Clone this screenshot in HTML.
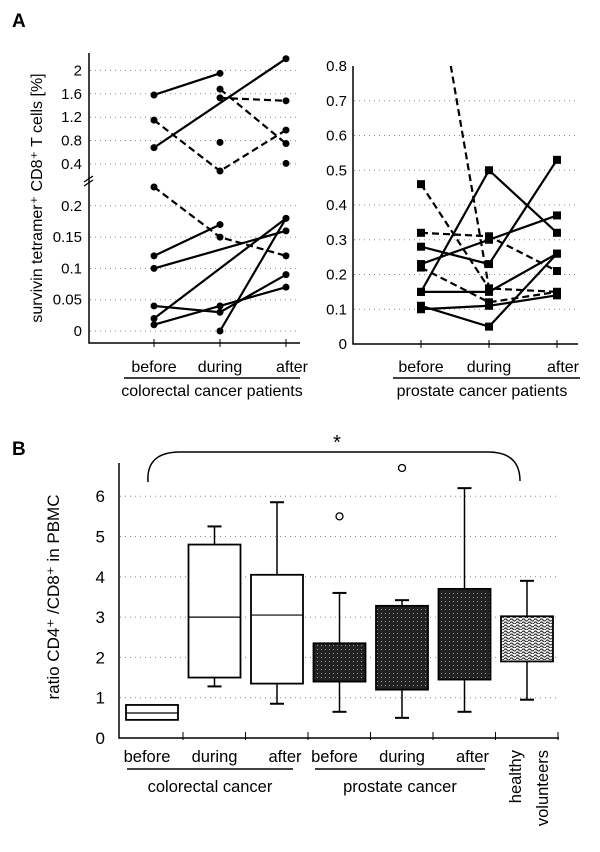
<!DOCTYPE html>
<html><head><meta charset="utf-8">
<style>
html,body{margin:0;padding:0;background:#fff;}
svg{display:block;font-family:"Liberation Sans",Arial,sans-serif;}
</style></head>
<body>
<svg id="fig" width="600" height="852" viewBox="0 0 600 852">
<defs>
<pattern id="stip" width="4" height="4" patternUnits="userSpaceOnUse">
<rect width="4" height="4" fill="#222"/><rect x="1" y="1" width="1" height="1" fill="#999"/></pattern>
<pattern id="wavy" width="6" height="6" patternUnits="userSpaceOnUse">
<rect width="6" height="6" fill="#fff"/><path d="M0 2 Q1.5 0 3 2 T6 2 M0 5 Q1.5 3 3 5 T6 5" stroke="#333" stroke-width="1.2" fill="none"/></pattern>
</defs>
<text x="12" y="27" font-size="19" font-weight="bold">A</text>
<text x="12" y="455" font-size="19" font-weight="bold">B</text>
<g id="gA1"></g>
<g id="gA2"></g>
<g id="gB"></g>
</svg>
<script>
// Panel A left (colorectal)
const catsA = ["before","during","after"];
const crUpper = [
 {v:[1.58,1.95,null],d:false},{v:[0.68,null,2.2],d:false},{v:[1.15,0.28,0.98],d:true},
 {v:[null,1.68,0.75],d:true},{v:[null,1.53,1.48],d:true},{v:[null,0.77,null],d:false},{v:[null,null,0.41],d:false}];
const crLower = [
 {v:[0.23,0.15,0.12],d:true},{v:[0.12,0.17,null],d:false},{v:[0.10,null,0.16],d:false},
 {v:[0.02,null,0.18],d:false},{v:[null,0.00,0.18],d:false},{v:[0.04,0.03,0.09],d:false},{v:[0.01,0.04,0.07],d:false}];
const crLowTicks = [0,0.05,0.1,0.15,0.2];
const crUpTicks = [0.4,0.8,1.2,1.6,2];
// Panel A right (prostate)
const prLines = [
 {v:[0.46,0.16,null],d:true},{v:[1.3,0.16,0.15],d:true},{v:[0.32,0.31,0.21],d:true},{v:[0.22,0.12,0.15],d:true},
 {v:[0.15,0.5,0.32],d:false},{v:[0.28,0.23,0.53],d:false},{v:[0.23,0.30,0.37],d:false},
 {v:[0.15,0.15,0.26],d:false},{v:[0.11,0.05,0.26],d:false},{v:[0.10,0.11,0.14],d:false}];
const prTicks = [0,0.1,0.2,0.3,0.4,0.5,0.6,0.7,0.8];
// Panel B
const bCats = ["cr-before","cr-during","cr-after","pr-before","pr-during","pr-after","healthy"];
const bNames = ["before","during","after","before","during","after",""];
const bLow = [null,1.28,0.85,0.65,0.5,0.65,0.95];
const bQ1 = [0.45,1.5,1.35,1.4,1.2,1.45,1.9];
const bMed = [0.62,3.0,3.05,null,null,null,null];
const bQ3 = [0.82,4.8,4.05,2.35,3.28,3.7,3.02];
const bHigh = [null,5.25,5.85,3.6,3.42,6.2,3.9];
const bOut = [null,null,null,5.5,6.7,null,null];
const bFill = ["#fff","#fff","#fff","url(#stip)","url(#stip)","url(#stip)","url(#wavy)"];
const bTicks = [0,1,2,3,4,5,6];

const NS="http://www.w3.org/2000/svg";
function mk(p,t,a,txt){const e=document.createElementNS(NS,t);for(const k in a)e.setAttribute(k,a[k]);if(txt!=null)e.textContent=txt;p.appendChild(e);return e;}

// ---- A left
const g1=document.getElementById('gA1');
const xA1=i=>154+i*66;
const yLow=v=>331-v/0.05*31.3;
const yUp=v=>164-(v-0.4)/0.4*23.4;
function grid(g,y,x0,x1){mk(g,'line',{x1:x0,x2:x1,y1:y,y2:y,stroke:'#888','stroke-dasharray':'1 4','stroke-width':1});}
crLowTicks.forEach(t=>{grid(g1,yLow(t),90,300);
 const e=mk(g1,'text',{x:82,y:yLow(t)+5,'font-size':15,'text-anchor':'end'},String(t));
 });
crUpTicks.forEach(t=>{grid(g1,yUp(t),90,300);
 const e=mk(g1,'text',{x:82,y:yUp(t)+5,'font-size':15,'text-anchor':'end'},String(t));
 });
mk(g1,'path',{d:'M89 53 V343 H300',stroke:'#000','stroke-width':1.5,fill:'none'});
mk(g1,'path',{d:'M84 182 l9 -6 M84 186 l9 -6',stroke:'#000','stroke-width':1.3});
function drawLines(g,data,xf,yf,marker){
 data.forEach(s=>{
  const pts=[];s.v.forEach((v,i)=>{if(v!=null)pts.push([xf(i),yf(v)]);});
  if(pts.length>1){const l=mk(g,'polyline',{points:pts.map(p=>p.join(',')).join(' '),fill:'none',stroke:'#000','stroke-width':2.2,'stroke-dasharray':s.d?'7 4':'none'});
   }
  pts.forEach(p=>{if(p[1]<40)return;const m=marker==='sq'?mk(g,'rect',{x:p[0]-4,y:p[1]-4,width:8,height:8,fill:'#000'}):mk(g,'circle',{cx:p[0],cy:p[1],r:3.5,fill:'#000'});
   });
 });
}
drawLines(g1,crLower,xA1,yLow,'c');
drawLines(g1,crUpper,xA1,yUp,'c');
catsA.forEach((c,i)=>{mk(g1,'line',{x1:xA1(i),x2:xA1(i),y1:339,y2:347,stroke:'#000'});
 const t=mk(g1,'text',{x:xA1(i)+(i==2?6:0),y:372,'font-size':16,'text-anchor':'middle'},c);
 });
mk(g1,'line',{x1:124,x2:300,y1:378,y2:378,stroke:'#000','stroke-width':1.5});
mk(g1,'text',{x:212,y:396,'font-size':16,'text-anchor':'middle'},'colorectal cancer patients');
mk(g1,'text',{x:0,y:0,'font-size':16,'text-anchor':'middle',transform:'translate(42,198) rotate(-90)'},'survivin tetramer⁺ CD8⁺ T cells [%]');

// ---- A right
const g2=document.getElementById('gA2');
const xA2=i=>421+i*68;
const yPr=v=>344-v/0.1*34.75;
prTicks.forEach(t=>{if(t>0&&t<0.8)grid(g2,yPr(t),354,578);
 const e=mk(g2,'text',{x:347,y:yPr(t)+5,'font-size':15,'text-anchor':'end'},String(t));
 });
const cl=mk(g2,'clipPath',{id:'clipPr'});mk(cl,'rect',{x:340,y:66,width:260,height:290});
const gp=mk(g2,'g',{'clip-path':'url(#clipPr)'});
drawLines(gp,prLines,xA2,yPr,'sq');
mk(g2,'path',{d:'M353 66 V344 H578',stroke:'#000','stroke-width':1.5,fill:'none'});
catsA.forEach((c,i)=>{mk(g2,'line',{x1:xA2(i),x2:xA2(i),y1:340,y2:348,stroke:'#000'});
 const t=mk(g2,'text',{x:xA2(i)+(i==2?6:0),y:372,'font-size':16,'text-anchor':'middle'},c);
 });
mk(g2,'line',{x1:393,x2:580,y1:378,y2:378,stroke:'#000','stroke-width':1.5});
mk(g2,'text',{x:482,y:396,'font-size':16,'text-anchor':'middle'},'prostate cancer patients');

// ---- B
const gB=document.getElementById('gB');
const xB=i=>152+i*62.5;
const yB=v=>738-v*40.3;
bTicks.forEach(t=>{if(t>0)grid(gB,yB(t),120,559);
 const e=mk(gB,'text',{x:105,y:yB(t)+6,'font-size':17,'text-anchor':'end'},String(t));
 });
mk(gB,'path',{d:'M119 463 V738 H559',stroke:'#000','stroke-width':1.5,fill:'none'});
for(let i=0;i<7;i++)mk(gB,'line',{x1:xB(i)+31,x2:xB(i)+31,y1:732,y2:740,stroke:'#000'});
bCats.forEach((c,i)=>{
 const x=xB(i),w=52;
 if(bHigh[i]!=null){
  mk(gB,'line',{x1:x,x2:x,y1:yB(bHigh[i]),y2:yB(bQ3[i]),stroke:'#000','stroke-width':1.5});
  mk(gB,'line',{x1:x-7,x2:x+7,y1:yB(bHigh[i]),y2:yB(bHigh[i]),stroke:'#000','stroke-width':2});
  mk(gB,'line',{x1:x,x2:x,y1:yB(bLow[i]),y2:yB(bQ1[i]),stroke:'#000','stroke-width':1.5});
  mk(gB,'line',{x1:x-7,x2:x+7,y1:yB(bLow[i]),y2:yB(bLow[i]),stroke:'#000','stroke-width':2});
 }
 const r=mk(gB,'rect',{x:x-w/2,y:yB(bQ3[i]),width:w,height:yB(bQ1[i])-yB(bQ3[i]),fill:bFill[i],stroke:'#000','stroke-width':1.8});
 
 if(bMed[i]!=null)mk(gB,'line',{x1:x-w/2,x2:x+w/2,y1:yB(bMed[i]),y2:yB(bMed[i]),stroke:'#000','stroke-width':1.2});
 if(bOut[i]!=null){const o=mk(gB,'circle',{cx:x,cy:yB(bOut[i]),r:3.5,fill:'none',stroke:'#000','stroke-width':1.3});
  }
 if(bNames[i]){const t=mk(gB,'text',{x:x+(i%3==2?8:(i%3==1?0:-5)),y:762,'font-size':16.5,'text-anchor':'middle'},bNames[i]);
  }
});
mk(gB,'path',{d:'M148 482 Q146 452 180 452 H488 Q520 452 520 481',fill:'none',stroke:'#000','stroke-width':1.5});
mk(gB,'text',{x:337,y:449,'font-size':20,'text-anchor':'middle'},'*');
mk(gB,'text',{x:0,y:0,'font-size':17,'text-anchor':'middle',transform:'translate(59,597) rotate(-90)'},'ratio CD4⁺ /CD8⁺ in PBMC');
mk(gB,'line',{x1:127,x2:293,y1:769,y2:769,stroke:'#000','stroke-width':1.5});
mk(gB,'line',{x1:315,x2:485,y1:769,y2:769,stroke:'#000','stroke-width':1.5});
mk(gB,'text',{x:210,y:792,'font-size':16.5,'text-anchor':'middle'},'colorectal cancer');
mk(gB,'text',{x:400,y:792,'font-size':16.5,'text-anchor':'middle'},'prostate cancer');
mk(gB,'text',{x:0,y:0,'font-size':16.5,'text-anchor':'end',transform:'translate(521,750) rotate(-90)'},'healthy');
mk(gB,'text',{x:0,y:0,'font-size':16.5,'text-anchor':'end',transform:'translate(548,750) rotate(-90)'},'volunteers');
</script>
</body></html>
